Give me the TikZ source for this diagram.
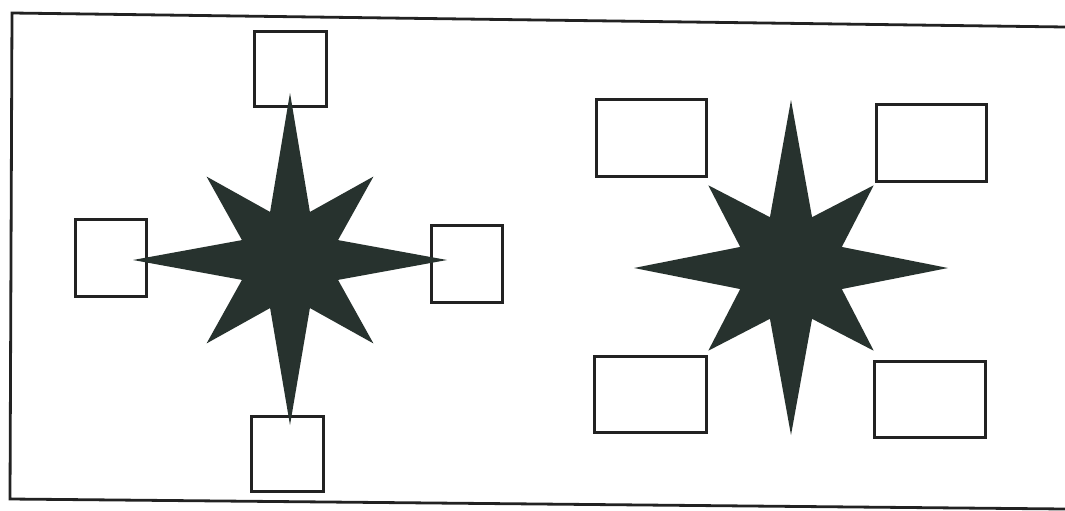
\documentclass[tikz,border=0pt]{standalone}
\usetikzlibrary{calc}
\definecolor{starfill}{HTML}{27322E}
\definecolor{inkline}{HTML}{222222}
\tikzset{
  framestyle/.style={draw=inkline, line width=2.8pt},
  boxnode/.style={draw=inkline, line width=3pt, fill=white, inner sep=0pt, rectangle},
  starshape/.style={fill=starfill, draw=none},
}
\newcommand{\compassstar}[8]{%
  % #1,#2 center; #3 up; #4 down; #5 horizontal; #6 diagonal; #7 inner; #8 unused
  \begin{scope}[shift={(#1,#2)}]
    \fill[starshape] (0,-#3) -- (-67.5:#7) -- (-45:#6) -- (-22.5:#7) -- (0:#5)
      -- (22.5:#7) -- (45:#6) -- (67.5:#7) -- (0,#4) -- (112.5:#7) -- (135:#6)
      -- (157.5:#7) -- (180:#5) -- (-157.5:#7) -- (-135:#6) -- (-112.5:#7) -- cycle;
  \end{scope}}
\begin{document}
\begin{tikzpicture}[x=1pt,y=-1pt]
\useasboundingbox (0,0) rectangle (1065,511);
\fill[white] (0,0) rectangle (1065,511);
% frame
\draw[framestyle] (1065,27) -- (12,13) -- (10,499) -- (1065,509);
% left group boxes
\node[boxnode, minimum width=72pt, minimum height=74pt] (ltop) at (290,69) {};
\node[boxnode, minimum width=71pt, minimum height=77pt] (lleft) at (110.5,257.5) {};
\node[boxnode, minimum width=71pt, minimum height=77pt] (lright) at (466.5,263.5) {};
\node[boxnode, minimum width=72pt, minimum height=75pt] (lbottom) at (287,453.5) {};
% right group boxes
\node[boxnode, minimum width=110pt, minimum height=77pt] (rtl) at (651,137.5) {};
\node[boxnode, minimum width=110pt, minimum height=77pt] (rtr) at (931,142.5) {};
\node[boxnode, minimum width=112pt, minimum height=76pt] (rbl) at (650,394) {};
\node[boxnode, minimum width=111pt, minimum height=76pt] (rbr) at (929.5,399) {};
% stars
\compassstar{290}{260}{167}{165}{157}{118}{52}{0}
\compassstar{791}{268}{168}{167}{157}{117}{55}{0}
\end{tikzpicture}
\end{document}
